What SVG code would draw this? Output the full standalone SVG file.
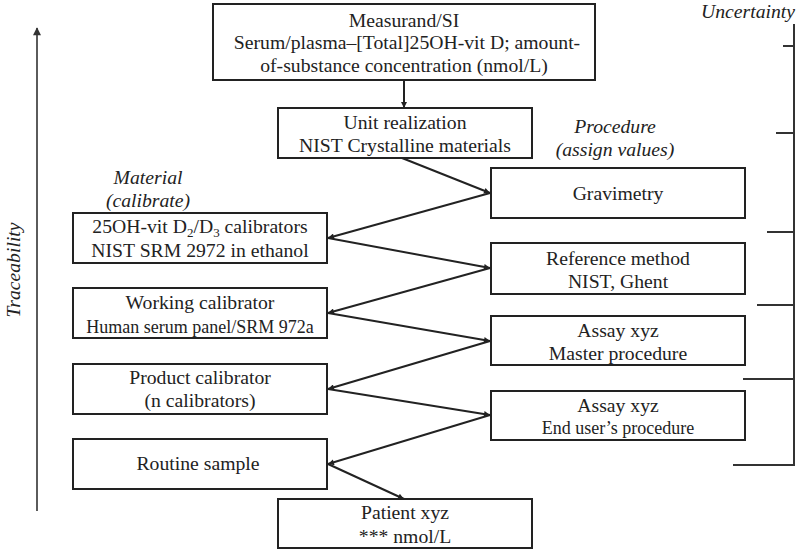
<svg xmlns="http://www.w3.org/2000/svg" width="800" height="550" viewBox="0 0 800 550">
<defs>
<style>
.box{fill:#fff;stroke:#222;stroke-width:2}
.t{font-family:"Liberation Serif","Times New Roman",serif;font-size:19.7px;fill:#222;text-anchor:middle}
.s{font-size:18px}
.it{font-style:italic}
.c{stroke:#222;stroke-width:2;fill:none;marker-end:url(#ah)}
.ax{stroke:#333;stroke-width:2;fill:none}
</style>
<marker id="ah" viewBox="0 0 10 10" refX="10" refY="5" markerWidth="7" markerHeight="6" markerUnits="userSpaceOnUse" orient="auto">
<path d="M0,0 L10,5 L0,10 z" fill="#222"/>
</marker>
<marker id="ah2" viewBox="0 0 10 10" refX="9" refY="5" markerWidth="9" markerHeight="8" markerUnits="userSpaceOnUse" orient="auto">
<path d="M0,0 L10,5 L0,10 z" fill="#333"/>
</marker>
</defs>

<g id="axes">
<line x1="37" y1="511" x2="37" y2="28" stroke="#333" stroke-width="1.6" marker-end="url(#ah2)"/>
<text class="t it" transform="translate(20,270) rotate(-90)">Traceability</text>
<text class="t it" x="748" y="18" font-size="18">Uncertainty</text>
<path class="ax" d="M794,24 V465 H733"/>
<path class="ax" d="M783,46 H794 M776,133 H794 M767,232 H794 M757,305 H794 M743,379 H794"/>
</g>

<g id="labels">
<text class="t it" x="148" y="184">Material</text>
<text class="t it" x="148" y="207">(calibrate)</text>
<text class="t it" x="615" y="133">Procedure</text>
<text class="t it" x="615" y="156">(assign values)</text>
</g>

<g id="measurand">
<rect class="box" x="213" y="4" width="382" height="76"/>
<text class="t" x="404" y="27">Measurand/SI</text>
<text class="t" x="407" y="49">Serum/plasma–[Total]25OH-vit  D; amount-</text>
<text class="t" x="404" y="72">of-substance  concentration (nmol/L)</text>
</g>

<g id="unit">
<rect class="box" x="278" y="108" width="254" height="50"/>
<text class="t" x="405" y="129">Unit realization</text>
<text class="t" x="405" y="152">NIST Crystalline materials</text>
</g>

<g id="gravimetry">
<rect class="box" x="491" y="168" width="254" height="50"/>
<text class="t" x="618" y="200">Gravimetry</text>
</g>

<g id="refmethod">
<rect class="box" x="491" y="243" width="254" height="51"/>
<text class="t" x="618" y="265">Reference method</text>
<text class="t" x="618" y="288">NIST, Ghent</text>
</g>

<g id="master">
<rect class="box" x="491" y="316" width="254" height="49"/>
<text class="t" x="618" y="337">Assay  xyz</text>
<text class="t" x="618" y="360">Master procedure</text>
</g>

<g id="enduser">
<rect class="box" x="491" y="391" width="254" height="49"/>
<text class="t" x="618" y="412">Assay  xyz</text>
<text class="t s" x="618" y="434">End user’s procedure</text>
</g>

<g id="calibrators">
<rect class="box" x="73" y="213" width="254" height="50"/>
<text class="t" x="200" y="233">25OH-vit D<tspan font-size="13" dy="4">2</tspan><tspan dy="-4">/D</tspan><tspan font-size="13" dy="4">3</tspan><tspan dy="-4"> calibrators</tspan></text>
<text class="t" x="200" y="257">NIST SRM 2972 in ethanol</text>
</g>

<g id="working">
<rect class="box" x="73" y="288" width="254" height="50"/>
<text class="t" x="200" y="309">Working calibrator</text>
<text class="t s" x="200" y="333">Human serum panel/SRM 972a</text>
</g>

<g id="product">
<rect class="box" x="73" y="364" width="254" height="50"/>
<text class="t" x="200" y="384">Product calibrator</text>
<text class="t" x="200" y="407">(n calibrators)</text>
</g>

<g id="routine">
<rect class="box" x="73" y="439" width="254" height="50"/>
<text class="t" x="198" y="470">Routine sample</text>
</g>

<g id="patient">
<rect class="box" x="278" y="499" width="254" height="49"/>
<text class="t" x="405" y="519">Patient xyz</text>
<text class="t" x="405" y="543">*** nmol/L</text>
</g>

<g id="connectors">
<line class="c" x1="404" y1="80" x2="404" y2="108"/>
<line class="c" x1="402" y1="158" x2="490" y2="193"/>
<line class="c" x1="490" y1="193" x2="328" y2="238"/>
<line class="c" x1="328" y1="238" x2="490" y2="268"/>
<line class="c" x1="490" y1="268" x2="328" y2="313"/>
<line class="c" x1="328" y1="313" x2="490" y2="341"/>
<line class="c" x1="490" y1="341" x2="328" y2="389"/>
<line class="c" x1="328" y1="389" x2="490" y2="415"/>
<line class="c" x1="490" y1="415" x2="328" y2="464"/>
<line class="c" x1="328" y1="464" x2="404" y2="499"/>
</g>
</svg>
